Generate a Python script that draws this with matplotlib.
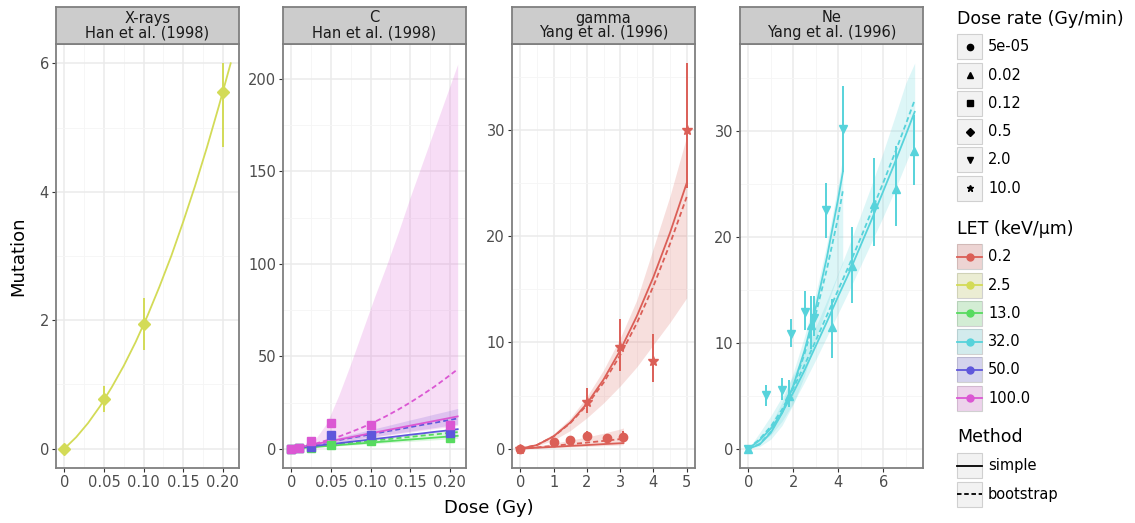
import matplotlib
matplotlib.use("Agg")
import matplotlib.pyplot as plt
from matplotlib.patches import Rectangle
from matplotlib.lines import Line2D

W, H = 1135, 523

# LET levels and dose-rate levels used for colour / shape
let_levels = ["0.2", "2.5", "13.0", "32.0", "50.0", "100.0"]
let_colors = ["#db5f57", "#d3db57", "#57db5f", "#57d3db", "#5f57db", "#db57d3"]
rate_levels = ["5e-05", "0.02", "0.12", "0.5", "2.0", "10.0"]
rate_markers = ["o", "^", "s", "D", "v", "*"]
method_levels = ["simple", "bootstrap"]

# ---- X-rays, Han et al. (1998) : LET 2.5, 0.5 Gy/min
xr_dose = [0, 0.05, 0.10, 0.20]
xr_mut = [0, 0.78, 1.94, 5.55]
xr_lo = [0, 0.57, 1.53, 4.69]
xr_hi = [0, 0.98, 2.35, 6.00]
xr_fit_x = [0, 0.015, 0.03, 0.045, 0.06, 0.075, 0.09, 0.105, 0.12, 0.135, 0.15, 0.165, 0.18, 0.195, 0.21]
xr_fit = [0, 0.18, 0.40, 0.66, 0.96, 1.29, 1.66, 2.07, 2.52, 3.00, 3.53, 4.09, 4.69, 5.33, 6.00]

# ---- C, Han et al. (1998) : 0.12 Gy/min
c_dose = [0, 0.01, 0.025, 0.05, 0.10, 0.20]
c13_mut = [0, 0.2, 0.3, 1.8, 4.0, 5.8]
c50_mut = [0, 0.3, 1.0, 7.4, 7.6, 8.5]
c100_mut = [0, 0.4, 4.0, 14.2, 12.6, 12.6]
c_fit_x = [0, 0.015, 0.03, 0.045, 0.06, 0.075, 0.09, 0.105, 0.12, 0.135, 0.15, 0.165, 0.18, 0.195, 0.21]
c13_simple = [0, 0.5, 1.0, 1.5, 2.0, 2.5, 3.0, 3.5, 4.0, 4.5, 5.0, 5.5, 6.0, 6.5, 7.0]
c13_boot = [0, 0.6, 1.2, 1.9, 2.5, 3.2, 3.8, 4.5, 5.1, 5.8, 6.4, 7.1, 7.7, 8.4, 9.0]
c13_band_lo = [0, 0.4, 0.8, 1.2, 1.6, 2.0, 2.4, 2.8, 3.2, 3.6, 4.0, 4.4, 4.8, 5.2, 5.6]
c13_band_hi = [0, 0.75, 1.5, 2.25, 3.0, 3.75, 4.5, 5.25, 6.0, 6.75, 7.5, 8.25, 9.0, 9.75, 10.5]
c50_simple = [0, 0.76, 1.5, 2.3, 3.0, 3.8, 4.5, 5.3, 6.0, 6.8, 7.6, 8.3, 9.1, 9.8, 10.6]
c50_boot = [0, 1.2, 2.3, 3.5, 4.7, 5.9, 7.0, 8.2, 9.4, 10.5, 11.7, 12.9, 14.0, 15.2, 16.4]
c50_band_lo = [0, 0.95, 1.9, 2.85, 3.8, 4.75, 5.7, 6.65, 7.6, 8.55, 9.5, 10.5, 11.4, 12.4, 13.3]
c50_band_hi = [0, 1.55, 3.1, 4.65, 6.2, 7.8, 9.3, 10.9, 12.4, 14.0, 15.6, 17.1, 18.7, 20.2, 21.8]
c100_simple = [0, 1.25, 2.5, 3.75, 5.0, 6.25, 7.5, 8.75, 10.0, 11.25, 12.5, 13.75, 15.0, 16.25, 17.5]
c100_boot = [0, 1.2, 2.7, 4.6, 6.6, 9.0, 11.6, 14.5, 17.7, 21.2, 25.0, 29.1, 33.4, 38.1, 43.0]
c100_band_lo = [0, 0.9, 1.8, 2.7, 3.6, 4.5, 5.4, 6.3, 7.2, 8.1, 9.0, 9.9, 10.8, 11.7, 12.6]
c100_band_hi = [0, 1.5, 5.0, 14.0, 29.0, 46.0, 64.0, 82.0, 99.0, 117.0, 136.0, 154.0, 172.0, 190.0, 208.0]

# ---- gamma, Yang et al. (1996) : LET 0.2
g_low_dose = [0, 1.0, 1.5, 2.0, 2.6, 3.1]          # 5e-05 Gy/min
g_low_mut = [0, 0.6, 0.85, 1.22, 0.97, 1.1]
g_low_lo = [0, 0.3, 0.6, 0.85, 0.7, 0.6]
g_low_hi = [0, 0.9, 1.1, 1.65, 1.3, 1.7]
g_high_dose = [0, 2.0, 3.0, 4.0, 5.0]              # 10.0 Gy/min
g_high_mut = [0, 4.4, 9.6, 8.3, 30.0]
g_high_lo = [0, 3.4, 7.3, 6.3, 24.5]
g_high_hi = [0, 5.7, 12.2, 10.8, 36.3]
g_low_fit_x = [0, 0.5, 1.0, 1.5, 2.0, 2.5, 3.0, 3.1]
g_low_simple = [0, 0.09, 0.17, 0.26, 0.34, 0.43, 0.51, 0.53]
g_low_boot = [0, 0.12, 0.27, 0.42, 0.57, 0.73, 0.90, 0.94]
g_low_band_lo = [0, 0.05, 0.10, 0.16, 0.22, 0.28, 0.35, 0.37]
g_low_band_hi = [0, 0.25, 0.50, 0.80, 1.10, 1.45, 1.85, 1.95]
g_high_fit_x = [0, 0.5, 1.0, 1.5, 2.0, 2.5, 3.0, 3.5, 4.0, 4.5, 5.0]
g_high_simple = [0, 0.34, 1.16, 2.46, 4.24, 6.5, 9.24, 12.46, 16.16, 20.34, 25.0]
g_high_boot = [0, 0.35, 1.15, 2.4, 4.1, 6.2, 8.8, 11.8, 15.3, 19.3, 23.7]
g_high_band_lo = [0, 0.25, 0.8, 1.7, 2.9, 4.3, 5.9, 7.7, 9.8, 11.9, 14.2]
g_high_band_hi = [0, 0.45, 1.4, 2.85, 4.9, 7.4, 10.4, 14.0, 18.9, 23.8, 29.4]

# ---- Ne, Yang et al. (1996) : LET 32
ne_low_dose = [0, 1.82, 2.81, 3.7, 4.62, 5.6, 6.59, 7.38]     # 0.02 Gy/min
ne_low_mut = [0, 4.95, 11.7, 11.5, 17.2, 23.06, 24.5, 28.1]
ne_low_lo = [0, 3.9, 9.4, 8.6, 13.8, 19.1, 21.0, 24.9]
ne_low_hi = [0, 6.5, 14.4, 14.1, 20.9, 27.4, 28.6, 31.5]
ne_high_dose = [0, 0.79, 1.51, 1.9, 2.53, 2.92, 3.44, 4.22]   # 2.0 Gy/min
ne_high_mut = [0, 5.04, 5.5, 10.8, 12.9, 12.35, 22.5, 30.15]
ne_high_lo = [0, 4.0, 4.6, 9.6, 11.2, 10.6, 19.9, 26.1]
ne_high_hi = [0, 6.05, 6.7, 12.2, 14.9, 14.4, 25.1, 34.2]
ne_low_fit_x = [0, 0.5, 1.0, 1.5, 2.0, 2.5, 3.0, 3.5, 4.0, 4.5, 5.0, 5.5, 6.0, 6.5, 7.0, 7.4]
ne_low_simple = [0, 0.8, 1.9, 3.4, 5.3, 7.4, 9.7, 12.0, 14.4, 16.7, 19.2, 21.7, 24.3, 26.9, 29.6, 31.8]
ne_low_boot = [0, 0.9, 2.1, 3.7, 5.7, 7.9, 10.2, 12.6, 15.0, 17.4, 19.9, 22.5, 25.1, 27.8, 30.6, 32.9]
ne_low_band_lo = [0, 0.5, 1.3, 2.6, 4.3, 6.3, 8.4, 10.6, 12.8, 15.0, 17.3, 19.6, 21.9, 24.3, 26.9, 29.0]
ne_low_band_hi = [0, 1.5, 3.1, 4.9, 6.9, 9.1, 11.5, 14.0, 16.6, 19.3, 22.1, 25.0, 28.0, 31.2, 34.5, 36.4]
ne_high_fit_x = [0, 0.5, 1.0, 1.5, 2.0, 2.5, 3.0, 3.5, 4.0, 4.2]
ne_high_simple = [0, 0.39, 1.50, 3.36, 5.94, 9.27, 13.32, 18.11, 23.63, 26.05]
ne_high_boot = [0, 0.45, 1.6, 3.4, 5.85, 8.95, 12.7, 17.0, 21.9, 24.3]
ne_high_band_lo = [0, 0.2, 0.9, 2.2, 4.2, 6.9, 10.3, 13.5, 16.5, 17.5]
ne_high_band_hi = [0, 0.8, 2.3, 4.4, 7.2, 10.6, 14.6, 19.4, 25.0, 27.5]

panel_titles = ["X-rays\nHan et al. (1998)", "C\nHan et al. (1998)",
                "gamma\nYang et al. (1996)", "Ne\nYang et al. (1996)"]


def col(let):
    return let_colors[let_levels.index(let)]


def mk(rate):
    return rate_markers[rate_levels.index(rate)]


# (dose, mutation, low, high, LET, rate)
panel_points = [
    [(xr_dose, xr_mut, xr_lo, xr_hi, "2.5", "0.5")],
    [(c_dose, c13_mut, c13_mut, c13_mut, "13.0", "0.12"),
     (c_dose, c50_mut, c50_mut, c50_mut, "50.0", "0.12"),
     (c_dose, c100_mut, c100_mut, c100_mut, "100.0", "0.12")],
    [(g_low_dose, g_low_mut, g_low_lo, g_low_hi, "0.2", "5e-05"),
     (g_high_dose, g_high_mut, g_high_lo, g_high_hi, "0.2", "10.0")],
    [(ne_low_dose, ne_low_mut, ne_low_lo, ne_low_hi, "32.0", "0.02"),
     (ne_high_dose, ne_high_mut, ne_high_lo, ne_high_hi, "32.0", "2.0")],
]
# (x, simple, bootstrap, band low, band high, LET)
panel_fits = [
    [(xr_fit_x, xr_fit, None, None, None, "2.5")],
    [(c_fit_x, c13_simple, c13_boot, c13_band_lo, c13_band_hi, "13.0"),
     (c_fit_x, c50_simple, c50_boot, c50_band_lo, c50_band_hi, "50.0"),
     (c_fit_x, c100_simple, c100_boot, c100_band_lo, c100_band_hi, "100.0")],
    [(g_low_fit_x, g_low_simple, g_low_boot, g_low_band_lo, g_low_band_hi, "0.2"),
     (g_high_fit_x, g_high_simple, g_high_boot, g_high_band_lo, g_high_band_hi, "0.2")],
    [(ne_low_fit_x, ne_low_simple, ne_low_boot, ne_low_band_lo, ne_low_band_hi, "32.0"),
     (ne_high_fit_x, ne_high_simple, ne_high_boot, ne_high_band_lo, ne_high_band_hi, "32.0")],
]

x_ticks = [[0, 0.05, 0.10, 0.15, 0.20], [0, 0.05, 0.10, 0.15, 0.20], [0, 1, 2, 3, 4, 5], [0, 2, 4, 6]]
x_labels = [["0", "0.05", "0.10", "0.15", "0.20"], ["0", "0.05", "0.10", "0.15", "0.20"],
            ["0", "1", "2", "3", "4", "5"], ["0", "2", "4", "6"]]
x_minor = [[0.025, 0.075, 0.125, 0.175], [0.025, 0.075, 0.125, 0.175],
           [0.5, 1.5, 2.5, 3.5, 4.5], [1, 3, 5, 7]]
y_ticks = [[0, 2, 4, 6], [0, 50, 100, 150, 200], [0, 10, 20, 30], [0, 10, 20, 30]]
y_minor = [[1, 3, 5], [25, 75, 125, 175], [5, 15, 25, 35], [5, 15, 25, 35]]
x_lims = [(-0.0105, 0.2205), (-0.0105, 0.2205), (-0.25, 5.25), (-0.37, 7.77)]
y_lims = [(-0.30, 6.30), (-10.4, 218.9), (-1.82, 38.1), (-1.82, 38.2)]

panel_left = [56, 283, 512, 740]
panel_w = 183
panel_top, panel_bottom, strip_top = 44, 468, 7
border = "#7f7f7f"
dash = (0, (2.8, 1.7))


def px_axes(fig, l, t, r, b):
    return fig.add_axes([l / W, 1 - b / H, (r - l) / W, (b - t) / H])


fig = plt.figure(figsize=(W / 100, H / 100), dpi=100)

for i in range(4):
    l = panel_left[i]
    ax = px_axes(fig, l, panel_top, l + panel_w, panel_bottom)
    ax.set_xlim(*x_lims[i])
    ax.set_ylim(*y_lims[i])
    ax.set_xticks(x_ticks[i])
    ax.set_xticklabels(x_labels[i])
    ax.set_xticks(x_minor[i], minor=True)
    ax.set_yticks(y_ticks[i])
    ax.set_yticks(y_minor[i], minor=True)
    ax.grid(True, which="major", color="#ebebeb", lw=1.1)
    ax.grid(True, which="minor", color="#f5f5f5", lw=0.6)
    ax.set_axisbelow(True)
    ax.tick_params(which="major", direction="out", length=3, width=0.8, color="#333333",
                   labelcolor="#4d4d4d", labelsize=10.5, pad=2)
    ax.tick_params(which="minor", length=0)
    for s in ax.spines.values():
        s.set_color(border)
        s.set_linewidth(1.3)

    for fx, simple, boot, blo, bhi, let in panel_fits[i]:
        c = col(let)
        if blo is not None:
            ax.fill_between(fx, blo, bhi, color=c, alpha=0.2, lw=0)
        ax.plot(fx, simple, color=c, lw=1.3, ls="-")
        if boot is not None:
            ax.plot(fx, boot, color=c, lw=1.3, ls=dash)

    for dose, mut, lo, hi, let, rate in panel_points[i]:
        c = col(let)
        ax.vlines(dose, lo, hi, color=c, lw=1.4)
        m = mk(rate)
        ms = {"o": 6, "^": 6, "s": 6, "D": 6, "v": 6, "*": 7}[m]
        ax.plot(dose, mut, ls="none", marker=m, ms=ms, color=c, mec=c)

    sax = px_axes(fig, l, strip_top, l + panel_w, panel_top)
    sax.set_facecolor("#cccccc")
    sax.set_xticks([])
    sax.set_yticks([])
    for s in sax.spines.values():
        s.set_color(border)
        s.set_linewidth(1.3)
    sax.text(0.5, 0.5, panel_titles[i], ha="center", va="center", fontsize=10.5,
             color="#1a1a1a", linespacing=1.0, transform=sax.transAxes)

fig.text(18 / W, 1 - 256 / H, "Mutation", rotation=90, ha="center", va="center",
         fontsize=13, color="black")
fig.text(489 / W, 1 - 508 / H, "Dose (Gy)", ha="center", va="center", fontsize=13, color="black")

# legend, laid out in pixel space
lg = fig.add_axes([0, 0, 1, 1])
lg.set_xlim(0, W)
lg.set_ylim(H, 0)
lg.axis("off")
key_x, key_w, key_h = 957, 25, 25
text_x = 988
step = 28.3


def key_box(yc, face="#f2f2f2"):
    lg.add_patch(Rectangle((key_x, yc - key_h / 2), key_w, key_h, facecolor=face,
                           edgecolor="#d0d0d0", lw=0.8))


lg.text(957, 19, "Dose rate (Gy/min)", fontsize=12.5, va="center", ha="left")
for j, (lab, m) in enumerate(zip(rate_levels, rate_markers)):
    yc = 46.7 + j * step
    key_box(yc)
    lg.plot([key_x + key_w / 2], [yc], marker=m, ms=4.5 if m != "*" else 5, color="black", ls="none")
    lg.text(text_x, yc, lab, fontsize=10.5, va="center", ha="left")

lg.text(957, 229, "LET (keV/\u00b5m)", fontsize=12.5, va="center", ha="left")
for j, (lab, c) in enumerate(zip(let_levels, let_colors)):
    yc = 256.7 + j * step
    key_box(yc)
    lg.add_patch(Rectangle((key_x, yc - key_h / 2), key_w, key_h, facecolor=c, alpha=0.2, lw=0))
    lg.add_line(Line2D([key_x, key_x + key_w], [yc, yc], color=c, lw=1.3))
    lg.plot([key_x + key_w / 2], [yc], marker="o", ms=5, color=c, ls="none")
    lg.text(text_x, yc, lab, fontsize=10.5, va="center", ha="left")

lg.text(957, 437, "Method", fontsize=12.5, va="center", ha="left")
for j, (lab, ls) in enumerate(zip(method_levels, ["-", (0, (2.5, 1.5))])):
    yc = 465.7 + j * step
    key_box(yc)
    lg.add_line(Line2D([key_x, key_x + key_w], [yc, yc], color="black", lw=1.3, ls=ls))
    lg.text(text_x, yc, lab, fontsize=10.5, va="center", ha="left")

fig.savefig("out.png", dpi=100)
